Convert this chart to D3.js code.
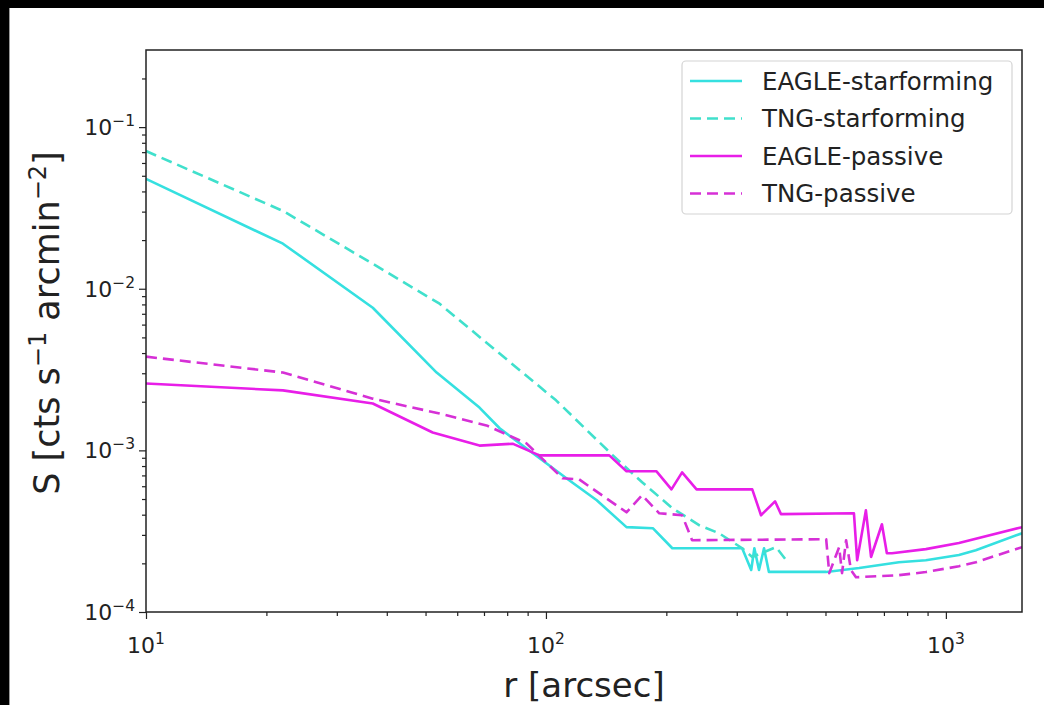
<!DOCTYPE html>
<html>
<head>
<meta charset="utf-8">
<script src="https://cdn.jsdelivr.net/npm/d3@7"></script>
<style>
  html, body { margin: 0; padding: 0; background: #000; }
  svg { display: block; }
  text { font-family: "DejaVu Sans", sans-serif; fill: #222; }
</style>
</head>
<body>
<svg id="chart" width="1044" height="705"></svg>
<script>
// Surface brightness profiles S(r) for the four galaxy samples
const eagleSfR = [10, 22, 36.9, 53.3, 68.2, 76.6, 112.5, 134, 159, 185, 207, 309.5, 326, 332, 341, 351, 361, 502, 607, 763, 891, 1078, 1188, 1550];
const eagleSfS = [0.0478, 0.019, 0.00763, 0.00303, 0.00184, 0.00137, 0.000672, 0.000491, 0.000335, 0.00033, 0.000248, 0.000248, 0.000182, 0.000248, 0.000182, 0.000248, 0.000177, 0.000177, 0.000187, 0.000203, 0.000209, 0.000225, 0.000241, 0.000307];

const tngSfR = [10, 22, 36.9, 54.2, 76.6, 106, 147, 174, 207, 242, 271, 309.5, 328, 376, 399];
const tngSfS = [0.0711, 0.0303, 0.01427, 0.00808, 0.00397, 0.00204, 0.000931, 0.000635, 0.000439, 0.000344, 0.000307, 0.000248, 0.000219, 0.000252, 0.000209];

const eaglePaR = [10, 22, 36.9, 52.1, 68.2, 82.5, 96.3, 144, 159, 189, 206, 219, 238, 328, 345, 374, 387, 589, 600, 631, 650, 692, 712, 733, 891, 1078, 1550];
const eaglePaS = [0.00259, 0.00235, 0.00195, 0.00129, 0.00107, 0.0011, 0.000931, 0.000931, 0.000742, 0.000742, 0.000574, 0.000731, 0.000574, 0.000574, 0.000397, 0.000484, 0.000403, 0.000408, 0.000209, 0.000426, 0.000219, 0.000349, 0.000231, 0.000231, 0.000245, 0.000267, 0.000335];

const tngPaR = [10, 22, 36.9, 54.2, 71, 89.4, 110, 121, 159, 174, 192, 219, 232, 502, 511, 541, 550, 563, 579, 596, 763, 891, 1078, 1188, 1550];
const tngPaS = [0.0038, 0.00303, 0.00209, 0.00169, 0.001427, 0.001105, 0.000672, 0.000662, 0.000414, 0.000528, 0.000408, 0.000397, 0.000278, 0.000282, 0.000174, 0.000252, 0.000174, 0.000278, 0.000182, 0.000164, 0.000169, 0.0001766, 0.000192, 0.000203, 0.000252];

const seriesNames = ["EAGLE-starforming", "TNG-starforming", "EAGLE-passive", "TNG-passive"];
const seriesColors = ["#35e0e0", "#40e0cc", "#e81ee8", "#d630d6"];
const seriesDashed = [false, true, false, true];

const xMajor = [10, 100, 1000];
const xMajorExp = ["1", "2", "3"];
const yMajor = [1e-4, 1e-3, 1e-2, 1e-1];
const yMajorExp = ["\u22124", "\u22123", "\u22122", "\u22121"];

const xLabel = "r [arcsec]";

const data = [
  eagleSfR.map((r, i) => [r, eagleSfS[i]]),
  tngSfR.map((r, i) => [r, tngSfS[i]]),
  eaglePaR.map((r, i) => [r, eaglePaS[i]]),
  tngPaR.map((r, i) => [r, tngPaS[i]])
];

const svg = d3.select("#chart");

// white figure canvas inside the dark surround
svg.append("rect").attr("x", 9).attr("y", 8).attr("width", 1035).attr("height", 697).attr("fill", "#fff");
svg.append("line").attr("x1", 9.5).attr("x2", 9.5).attr("y1", 8).attr("y2", 705)
  .attr("stroke", "#999").attr("stroke-width", 1);

const m = { left: 146, right: 1022, top: 50, bottom: 612 };
const x = d3.scaleLog().domain([10, 1550]).range([m.left, m.right]);
const y = d3.scaleLog().domain([1e-4, 0.3]).range([m.bottom, m.top]);

svg.append("clipPath").attr("id", "plotclip")
  .append("rect").attr("x", m.left).attr("y", m.top)
  .attr("width", m.right - m.left).attr("height", m.bottom - m.top);

// minor tick positions
const xMinor = [];
[10, 100, 1000].forEach(d => { for (let k = 2; k <= 9; k++) { const v = d * k; if (v <= 1550) xMinor.push(v); } });
const yMinor = [];
[1e-4, 1e-3, 1e-2, 1e-1].forEach(d => { for (let k = 2; k <= 9; k++) { const v = d * k; if (v <= 0.3) yMinor.push(v); } });

const tickStyle = g => {
  g.select(".domain").remove();
  g.selectAll("line").attr("stroke", "#222").attr("stroke-width", 1.2);
};

svg.append("g").attr("transform", `translate(0,${m.bottom})`)
  .call(d3.axisBottom(x).tickValues(xMajor).tickSize(7).tickFormat("")).call(tickStyle);
svg.append("g").attr("transform", `translate(0,${m.bottom})`)
  .call(d3.axisBottom(x).tickValues(xMinor).tickSize(4).tickFormat("")).call(tickStyle);
svg.append("g").attr("transform", `translate(${m.left},0)`)
  .call(d3.axisLeft(y).tickValues(yMajor).tickSize(7).tickFormat("")).call(tickStyle);
svg.append("g").attr("transform", `translate(${m.left},0)`)
  .call(d3.axisLeft(y).tickValues(yMinor).tickSize(4).tickFormat("")).call(tickStyle);

// tick labels as powers of ten
xMajor.forEach((v, i) => {
  const t = svg.append("text").attr("x", x(v)).attr("y", 653)
    .attr("text-anchor", "middle").attr("font-size", 22);
  t.append("tspan").text("10");
  t.append("tspan").attr("dy", -9).attr("font-size", 15.5).text(xMajorExp[i]);
});
yMajor.forEach((v, i) => {
  const t = svg.append("text").attr("x", 135).attr("y", y(v) + 8)
    .attr("text-anchor", "end").attr("font-size", 22);
  t.append("tspan").text("10");
  t.append("tspan").attr("dy", -9).attr("font-size", 15.5).text(yMajorExp[i]);
});

// axis titles
svg.append("text").attr("x", (m.left + m.right) / 2).attr("y", 697)
  .attr("text-anchor", "middle").attr("font-size", 34).text(xLabel);

const yl = svg.append("text")
  .attr("transform", `translate(59,${(m.top + m.bottom) / 2 - 8}) rotate(-90)`)
  .attr("text-anchor", "middle").attr("font-size", 35);
yl.append("tspan").text("S [cts s");
yl.append("tspan").attr("dy", -13).attr("font-size", 24).text("\u22121");
yl.append("tspan").attr("dy", 13).text(" arcmin");
yl.append("tspan").attr("dy", -13).attr("font-size", 24).text("\u22122");
yl.append("tspan").attr("dy", 13).text("]");

// profile lines
const line = d3.line().x(d => x(d[0])).y(d => y(d[1]));
const plot = svg.append("g").attr("clip-path", "url(#plotclip)");
data.forEach((d, i) => {
  plot.append("path").datum(d).attr("d", line)
    .attr("fill", "none").attr("stroke", seriesColors[i]).attr("stroke-width", 2.6)
    .attr("stroke-linejoin", "round")
    .attr("stroke-dasharray", seriesDashed[i] ? "11,6" : null);
});

// axes frame
svg.append("rect").attr("x", m.left).attr("y", m.top)
  .attr("width", m.right - m.left).attr("height", m.bottom - m.top)
  .attr("fill", "none").attr("stroke", "#222").attr("stroke-width", 1.5);

// legend
const lg = svg.append("g");
lg.append("rect").attr("x", 682).attr("y", 61).attr("width", 330).attr("height", 153)
  .attr("rx", 4).attr("fill", "#fff").attr("fill-opacity", 0.85)
  .attr("stroke", "#d4d4d4").attr("stroke-width", 1.2);
seriesNames.forEach((name, i) => {
  const cy = 81 + i * 37.5;
  lg.append("line").attr("x1", 690).attr("x2", 742).attr("y1", cy).attr("y2", cy)
    .attr("stroke", seriesColors[i]).attr("stroke-width", 2.6)
    .attr("stroke-dasharray", seriesDashed[i] ? "11,6" : null);
  lg.append("text").attr("x", 762).attr("y", cy + 8.5).attr("font-size", 24.5)
    .attr("fill", "#333").text(name);
});
</script>
</body>
</html>
